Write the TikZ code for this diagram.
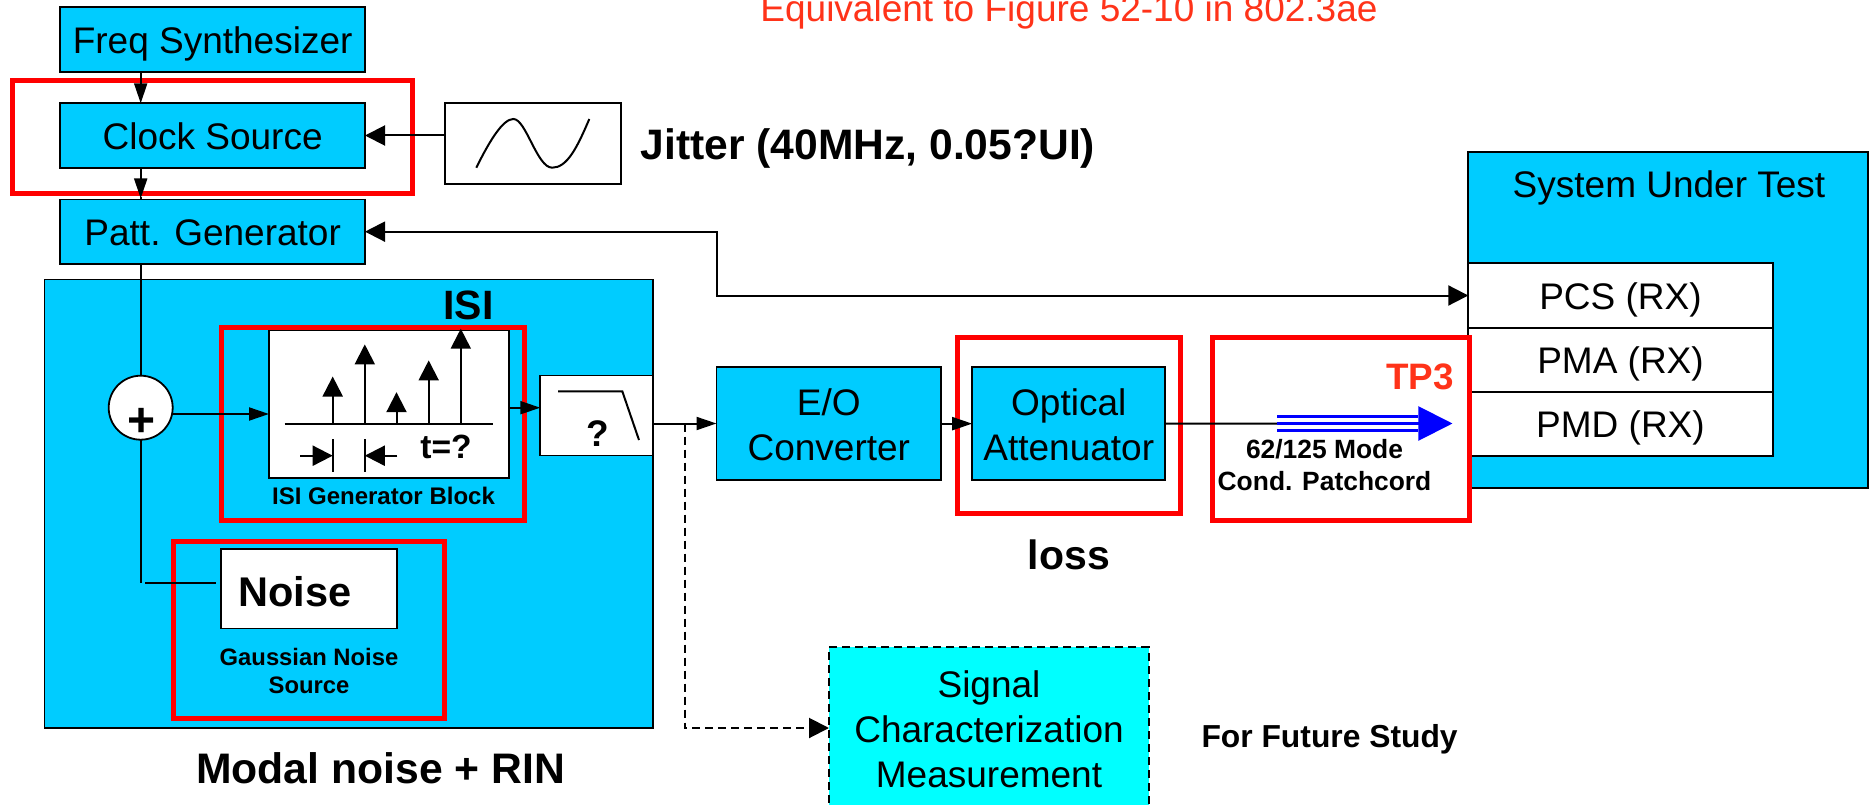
\documentclass[tikz,border=0pt]{standalone}
\usepackage{fontspec}
\setmainfont{Liberation Sans}
\usetikzlibrary{arrows.meta,calc}
\definecolor{boxblue}{HTML}{00CCFF}
\definecolor{sigcyan}{HTML}{00FFFF}
\definecolor{tpred}{HTML}{FF3319}
\tikzset{
  regtext/.style={font=\fontsize{37}{45}\selectfont},
  shape box/.style={rectangle,draw=black,line width=1.8pt,inner sep=0pt,outer sep=0pt,regtext,
     text height=28pt,text depth=0pt},
  bluebox/.style={shape box,fill=boxblue},
  whitebox/.style={shape box,fill=white},
  twolines/.style={text width=220pt,align=center,text depth=45pt},
  redframe/.style={rectangle,draw=red,line width=5pt,inner sep=0pt,outer sep=0pt,fill=none},
  conn/.style={draw=black,line width=2pt},
  tipnarrow/.style={conn,-{Triangle[length=20pt,width=13pt]}},
  tipwide/.style={conn,-{Triangle[length=20pt,width=20pt]}},
  dashconn/.style={conn,dash pattern=on 8pt off 5pt},
  thintrace/.style={draw=black,line width=2pt},
  lab/.style={anchor=base,inner sep=0pt,outer sep=0pt},
  labw/.style={anchor=base west,inner sep=0pt,outer sep=0pt},
  bold/.style={font=\fontsize{#1}{#1}\selectfont\bfseries},
  bluetrace/.style={draw=blue,line width=2.7pt}
}
\begin{document}
\begin{tikzpicture}[x=1pt,y=-1pt]
\useasboundingbox (0,0) rectangle (1869,805);
\clip (0,0) rectangle (1869,805);
\fill[white] (0,0) rectangle (1869,805);

% large blocks
\node[bluebox,minimum width=608.3,minimum height=448.3] (isiblock) at (348.65,503.65) {};
\node[bluebox,minimum width=400,minimum height=336] (sut) at (1668.3,319.7) {};

% blue boxes
\node[bluebox,minimum width=304.7,minimum height=64.4] (freq) at (212.65,39.5) {Freq Synthesizer};
\node[bluebox,minimum width=304.7,minimum height=64.4] (clock) at (212.65,135.5) {Clock Source};
\node[bluebox,minimum width=304.7,minimum height=64.4] (patt) at (212.65,231.65) {Patt. Generator};
\node[bluebox,twolines,minimum width=224.7,minimum height=112.7] (eo) at (828.85,423.65) {E/O\\Converter};
\node[bluebox,twolines,text width=190pt,minimum width=193.1,minimum height=112.7] (atten) at (1068.75,423.65) {Optical\\Attenuator};
\node[shape box,fill=sigcyan,dash pattern=on 8pt off 5pt,text width=300pt,align=center,text depth=90pt,
      minimum width=320,minimum height=161.4] (signal) at (989,728) {Signal\\Characterization\\Measurement};

% white boxes
\node[whitebox,minimum width=176.4,minimum height=80.4] (sinebox) at (532.8,143.5) {};
\node[whitebox,minimum width=239.6,minimum height=148.3] (isigen) at (388.8,403.85) {};
\node[whitebox,minimum width=112.4,minimum height=80] (lpf) at (596.5,415.5) {};
\node[whitebox,minimum width=176,minimum height=79.6] (noise) at (309,588.6) {};
\node[whitebox,minimum width=304.4,minimum height=64.4] (pcs) at (1620.5,295.5) {PCS (RX)};
\node[whitebox,minimum width=304.4,minimum height=64] (pma) at (1620.5,359.7) {PMA (RX)};
\node[whitebox,minimum width=304.4,minimum height=64] (pmd) at (1620.5,423.7) {PMD (RX)};
\node[whitebox,circle,minimum size=64] (summer) at (140.7,407.7) {};

% red frames
\node[redframe,minimum width=400.2,minimum height=112.3] (redclock) at (212.6,137.15) {};
\node[redframe,minimum width=303.7,minimum height=192.5] (redisi) at (372.85,423.75) {};
\node[redframe,minimum width=271,minimum height=176.5] (rednoise) at (308.5,630) {};
\node[redframe,minimum width=223.5,minimum height=176.2] (redatten) at (1068.75,425.4) {};
\node[redframe,minimum width=257,minimum height=182.7] (redtp) at (1340.5,428.65) {};

% connectors
\coordinate (rowx) at (140.7,0);
\draw[tipnarrow] (freq.south -| rowx) -- (clock.north -| rowx);
\draw[tipnarrow] (clock.south -| rowx) -- ($(patt.north -| rowx)+(0,-1)$);
\draw[conn] ($(patt.north -| rowx)+(0,-2)$) -- (patt.north -| rowx);
\draw[tipwide] (sinebox.west |- clock) -- (clock.east);
\draw[conn] (patt.south -| summer) -- (summer.north);
\coordinate (turn1) at (716.5,231.65);
\coordinate (turn2) at (716.5,295.5);
\draw[conn,{Triangle[length=20pt,width=20pt]}-{Triangle[length=20pt,width=20pt]}] (patt.east) -- (turn1) -- (turn2) -- (pcs.west);
\draw[tipnarrow] (summer.east |- 0,414) -- (isigen.west |- 0,414);
\draw[tipnarrow] (isigen.east |- 0,407.7) -- (lpf.west |- 0,407.7);
\coordinate (lpfout) at (652.7,423.5);
\draw[tipnarrow] (lpfout) -- (eo.west |- lpfout);
\coordinate (branch) at (684.8,423.5);
\coordinate (branchdown) at (684.8,728);
\draw[dashconn] (branch) -- (branchdown) -- ($(signal.west)+(-18,0)$);
\draw[tipwide] ($(signal.west)+(-20,0)$) -- (signal.west);
\coordinate (noisecorner) at (140.7,583.3);
\coordinate (noiseleft) at (145,583.3);
\coordinate (noiseright) at (216,583.3);
\draw[conn] (summer.south) -- (noisecorner);
\draw[conn] (noiseleft) -- (noiseright);
\draw[conn,-{Triangle[length=20pt,width=13pt]}] (eo.east) -- (atten.west);
\coordinate (cordstart) at (1277,423.5);
\draw[conn] (atten.east) -- (cordstart);

% patch cord arrow
\draw[bluetrace] ($(cordstart)+(0,-6.7)$) -- ($(cordstart)+(141.3,-6.7)$);
\draw[bluetrace] ($(cordstart)+(0,6.7)$) -- ($(cordstart)+(141.3,6.7)$);
\draw[bluetrace,-{Triangle[length=34.2pt,width=34pt,fill=blue]}] (cordstart) -- ($(cordstart)+(175.5,0)$);

% sine
\draw[thintrace] (476.3,167.7) .. controls (490,140) and (503,119) .. (513.4,119)
  .. controls (526,119) and (537,167.7) .. (552.2,167.7)
  .. controls (567,167.7) and (577,148) .. (589.3,119);

% impulse train
\draw[thintrace] (284.5,423.6) -- (493.4,423.6);
\draw[tipwide] (332.7,423.6) -- (332.7,376.5);
\draw[tipwide] (364.8,423.6) -- (364.8,344.4);
\draw[tipwide] (396.5,423.6) -- (396.5,392.2);
\draw[tipwide] (428.7,423.6) -- (428.7,360.4);
\draw[tipwide] (460.8,423.6) -- (460.8,328.7);
\draw[thintrace] (332.7,439) -- (332.7,472.4);
\draw[thintrace] (364.8,439) -- (364.8,472.4);
\draw[tipwide] (300,455.7) -- (332.7,455.7);
\draw[tipwide] (397.4,455.7) -- (364.8,455.7);

% filter curve
\draw[thintrace] (558,391.3) -- (622.3,391.3) -- (639,440);

% labels
\node[lab,font=\fontsize{37}{37}\selectfont,text=tpred] (title) at (1069,22) {Equivalent to Figure 52-10 in 802.3ae};
\node[labw,bold=42.6] (jitter) at (640.6,159.3) {Jitter (40MHz, 0.05?UI)};
\node[lab,bold=41] (isilabel) at (468.5,319.5) {ISI};
\node[lab,bold=48] (plussign) at (141.7,436) {+};
\node[lab,bold=33.6] (tlabel) at (446,458.4) {t=?};
\node[lab,bold=24] (isigenlabel) at (383.5,504.8) {ISI Generator Block};
\node[lab,bold=37] (lpflabel) at (598,446) {?};
\node[labw,bold=41.5] (noiselabel) at (238.5,606.9) {Noise};
\node[lab,bold=23.8] (gauss1) at (309,665) {Gaussian Noise};
\node[lab,bold=23.8] (gauss2) at (309,693.2) {Source};
\node[lab,bold=42.7] (modal) at (380.5,783) {Modal noise + RIN};
\node[lab,regtext] (sutlabel) at (1669,197.5) {System Under Test};
\node[lab,bold=36.8,text=tpred] (tp3) at (1420,389) {TP3};
\node[lab,bold=26.4] (cord1) at (1324.5,458.3) {62/125 Mode};
\node[lab,bold=26.4] (cord2) at (1324.5,490) {Cond. Patchcord};
\node[lab,bold=41] (loss) at (1069,569.6) {loss};
\node[labw,bold=31.8] (future) at (1201.5,747.4) {For Future Study};
\end{tikzpicture}
\end{document}
